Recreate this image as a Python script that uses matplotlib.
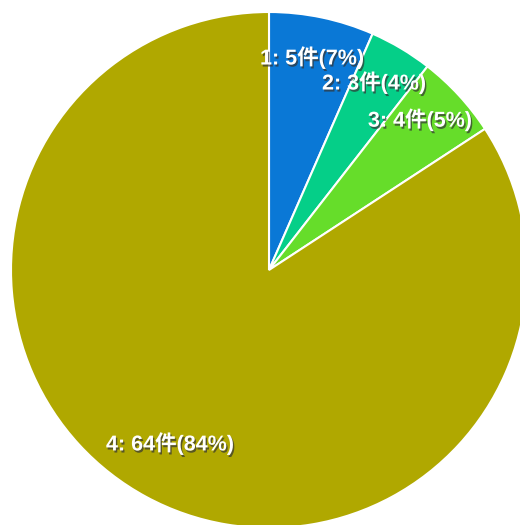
import matplotlib
matplotlib.use("Agg")
import matplotlib.pyplot as plt
import matplotlib.patheffects as pe

categories = ["1", "2", "3", "4"]
counts = [5, 3, 4, 64]
colors = ["#0a78d6", "#05cf88", "#66dd2a", "#b0a800"]

# label anchor positions (data coords, pie radius = 1)
label_pos = [(0.167, 0.822), (0.407, 0.725), (0.585, 0.581), (-0.384, -0.674)]

W, H = 520, 525
fig = plt.figure(figsize=(W / 100, H / 100), dpi=100)
cx, cy, r = 269, 270, 258
ax = fig.add_axes([(cx - r) / W, (H - cy - r) / H, 2 * r / W, 2 * r / H])

ax.pie(counts, colors=colors, startangle=90, counterclock=False, radius=1,
       wedgeprops=dict(edgecolor="white", linewidth=1.5))
ax.set_xlim(-1, 1)
ax.set_ylim(-1, 1)
ax.set_aspect("equal")
ax.axis("off")

total = sum(counts)
for cat, c, (x, y) in zip(categories, counts, label_pos):
    pct = round(c / total * 100)
    ax.text(x, y, f"{cat}: {c}件({pct}%)", ha="center", va="center",
            color="white", fontsize=15.5, fontweight="bold",
            family=["Liberation Sans", "Noto Sans CJK JP"],
            path_effects=[pe.withSimplePatchShadow(offset=(1, -1.5), shadow_rgbFace="#333333", alpha=0.7)])

fig.savefig("out.png", dpi=100)
